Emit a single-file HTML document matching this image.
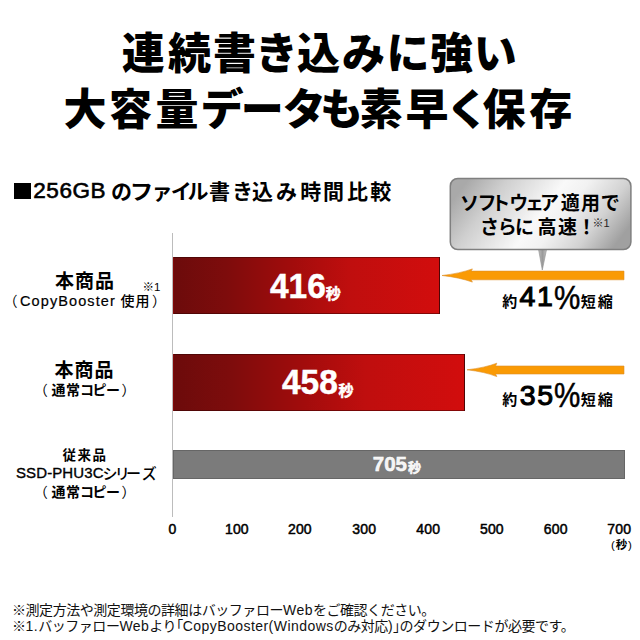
<!DOCTYPE html>
<html lang="ja">
<head>
<meta charset="utf-8">
<style>
html,body{margin:0;padding:0;background:#fff;}
.ov{position:absolute;left:0;top:0;}
.bub{position:absolute;left:0;width:640px;height:20px;font-size:19px;font-weight:700;line-height:1;color:#000;}
.bub span{position:absolute;top:0;}
body{width:640px;height:640px;position:relative;overflow:hidden;
  font-family:"Liberation Sans","Noto Sans CJK JP",sans-serif;color:#000;}
.a{position:absolute;white-space:nowrap;line-height:1;}
.jp{font-family:"Liberation Sans","Noto Sans CJK JP",sans-serif;}
.ttl{position:absolute;left:0;width:640px;height:46px;font-size:43px;font-weight:900;line-height:1;}
.ttl span{position:absolute;top:0;}
.sq{position:absolute;left:13.5px;top:182.5px;width:17px;height:16.5px;background:#000;}
.subj{position:absolute;left:0;top:180.5px;width:640px;height:22px;font-size:21px;font-weight:700;line-height:1;}
.subj span{position:absolute;top:0;}
.axis{position:absolute;left:172px;top:233px;width:1px;height:284px;background:#bcbcbc;}
.bar{position:absolute;box-sizing:border-box;}
.b1{left:172.6px;top:257.4px;width:267.2px;height:56.2px;background:linear-gradient(90deg,#6c0b0b 0%,#7e0c0c 20%,#a20c0c 45%,#bf0e0e 66%,#d20d0d 100%);border:1px solid rgba(40,0,0,0.45);}
.b2{left:172.6px;top:353.8px;width:292.4px;height:56.8px;background:linear-gradient(90deg,#6c0b0b 0%,#7e0c0c 20%,#a20c0c 45%,#bf0e0e 66%,#d20d0d 100%);border:1px solid rgba(40,0,0,0.45);}
.b3{left:172.6px;top:450.4px;width:452.2px;height:28.2px;background:#7b7b7b;border:1px solid #666;}
.val{color:#fff;font-weight:700;-webkit-text-stroke:0.5px #fff;}
.vn{transform:scaleX(0.955);transform-origin:0 0;}
.tick{font-size:14px;font-weight:400;-webkit-text-stroke:0.5px #000;letter-spacing:0.2px;}
.lab{font-weight:700;text-align:center;}
.lb{font-size:14px;font-weight:700;}
.lbrow{position:absolute;left:0;width:200px;height:16px;font-size:14px;font-weight:700;line-height:1;}
.lbrow span{position:absolute;top:0;}
.kp{font-feature-settings:"palt";letter-spacing:1px;}
.pj{font-size:15px;font-weight:700;}
.pn{font-size:28.5px;font-weight:400;-webkit-text-stroke:1.1px #000;letter-spacing:1.5px;}
.pc{font-size:34px;font-weight:400;-webkit-text-stroke:0.5px #000;transform:scaleX(0.87);transform-origin:0 0;}
.lt{letter-spacing:0.45px;}
.h{font-feature-settings:"halt";}
.foot{font-size:14px;font-weight:400;color:#111;letter-spacing:-0.45px;}
</style>
</head>
<body>
<div class="ttl" style="top:33px"><span style="left:121.8px">連</span><span style="left:168.0px">続</span><span style="left:213.0px">書</span><span style="left:255.0px">き</span><span style="left:297.0px">込</span><span style="left:342.0px">み</span><span style="left:386.5px">に</span><span style="left:430.0px">強</span><span style="left:473.7px">い</span></div>
<div class="ttl" style="top:89px"><span style="left:63.5px">大</span><span style="left:109.0px">容</span><span style="left:155.5px">量</span><span style="left:200.4px">デ</span><span style="left:240.7px">ー</span><span style="left:282.7px">タ</span><span style="left:320.0px">も</span><span style="left:359.6px">素</span><span style="left:405.5px">早</span><span style="left:446.0px">く</span><span style="left:482.5px">保</span><span style="left:529.3px">存</span></div>
<div class="sq"></div><div class="a" style="left:33.3px;top:179.8px;font-size:22.5px;font-weight:400;-webkit-text-stroke:0.6px #000;letter-spacing:0.55px;">256GB</div>
<div class="subj"><span style="left:110.9px">の</span><span style="left:130.3px;transform:scaleX(1.12);transform-origin:3px 0;display:inline-block">フ</span><span style="left:151.4px">ァ</span><span style="left:170.7px">イ</span><span style="left:187.5px">ル</span><span style="left:209.0px">書</span><span style="left:232.0px">き</span><span style="left:252.0px">込</span><span style="left:275.9px">み</span><span style="left:300.2px">時</span><span style="left:323.0px">間</span><span style="left:347.0px">比</span><span style="left:370.2px">較</span></div>

<svg class="ov" width="640" height="640" viewBox="0 0 640 640">
<defs>
<linearGradient id="bg" x1="0" y1="0.35" x2="1" y2="0.65">
<stop offset="0" stop-color="#a9a9a9"/>
<stop offset="0.2" stop-color="#cfcfcf"/>
<stop offset="0.5" stop-color="#f9f9f9"/>
<stop offset="0.62" stop-color="#f2f2f2"/>
<stop offset="0.82" stop-color="#d2d2d2"/>
<stop offset="1" stop-color="#a0a0a0"/>
</linearGradient>
<linearGradient id="tg" x1="0" y1="0" x2="1" y2="0">
<stop offset="0" stop-color="#bdbdbd"/>
<stop offset="0.5" stop-color="#9a9a9a"/>
<stop offset="1" stop-color="#c4c4c4"/>
</linearGradient>
</defs>
<path d="M538.5,249.2 L542.3,270 L546.6,249.2 Z" fill="url(#tg)" stroke="#8e8e8e" stroke-width="0.6"/>
<rect x="450.3" y="178.4" width="180.6" height="71.2" rx="7.5" ry="7.5" fill="url(#bg)" stroke="#7f7f7f" stroke-width="1.5"/>
<path d="M442,275.5 Q460,273.4 472.4,268.9 L471.2,271.1 L624,271.1 L624,279.8 L471.2,279.8 L472.4,282.1 Q460,277.6 442,275.5 Z" fill="#fa9a04" stroke="#dc8f2a" stroke-width="0.6"/>
<path d="M467,369.8 Q485,367.7 496.8,363.2 L495.6,366 L624,366 L624,374 L495.6,374 L496.8,376.6 Q485,371.9 467,369.8 Z" fill="#fa9a04" stroke="#dc8f2a" stroke-width="0.6"/>
</svg>
<div class="bub" style="top:193.5px"><span style="left:460.0px">ソ</span><span style="left:477.6px">フ</span><span style="left:491.2px">ト</span><span style="left:509.3px">ウ</span><span style="left:525.0px">ェ</span><span style="left:540.0px">ア</span><span style="left:560.7px">適</span><span style="left:581.1px">用</span><span style="left:600.8px">で</span></div>
<div class="bub" style="top:218px"><span style="left:480.1px">さ</span><span style="left:497.7px">ら</span><span style="left:514.9px">に</span><span style="left:537.5px">高</span><span style="left:557.9px">速</span><span style="left:577.0px">！</span></div>
<div class="a" style="left:592.5px;top:218px;font-size:11px;color:#222;">※1</div>
<div class="a pj" style="left:502.2px;top:294.4px;">約</div>
<div class="a pn" style="left:519.6px;top:281.7px;">41</div>
<div class="a pc" style="left:553.9px;top:279.5px;">%</div>
<div class="a pj" style="left:580.8px;top:293.9px;letter-spacing:2px;">短縮</div>
<div class="a pj" style="left:502.2px;top:392.2px;">約</div>
<div class="a pn" style="left:519.8px;top:380.5px;">35</div>
<div class="a pc" style="left:554.1px;top:376.7px;transform:scaleX(0.87) scaleY(1.04);">%</div>
<div class="a pj" style="left:580.8px;top:392.4px;letter-spacing:2px;">短縮</div>
<div class="axis"></div>
<div class="bar b1"></div>
<div class="bar b2"></div>
<div class="bar b3"></div>

<div class="a val vn" style="left:269.5px;top:268.3px;font-size:35px;">416</div>
<div class="a val" style="left:325.8px;top:286px;font-size:15px;">秒</div>
<div class="a val vn" style="left:282px;top:363.8px;font-size:35px;">458</div>
<div class="a val" style="left:338.6px;top:382.6px;font-size:15px;">秒</div>
<div class="a val" style="left:372.8px;top:454px;font-size:20.5px;color:#f4f4f4;">705</div>
<div class="a val" style="left:408px;top:460.5px;font-size:13px;color:#f4f4f4;">秒</div>
<div class="a tick" style="left:168.4px;top:522.2px;">0</div>
<div class="a tick" style="left:224.9px;top:522.2px;">100</div>
<div class="a tick" style="left:287.9px;top:522.2px;">200</div>
<div class="a tick" style="left:352.3px;top:522.2px;">300</div>
<div class="a tick" style="left:416.2px;top:522.2px;">400</div>
<div class="a tick" style="left:479.9px;top:522.2px;">500</div>
<div class="a tick" style="left:543.7px;top:522.2px;">600</div>
<div class="a tick" style="left:607.3px;top:522.2px;">700</div>
<div class="a" style="left:611px;top:540px;font-size:11.5px;font-weight:700;letter-spacing:0.8px;"><span style="font-weight:400">(</span>秒<span style="font-weight:400">)</span></div>
<div class="a lab" style="left:55px;top:272px;font-size:19px;letter-spacing:1px;">本商品</div>
<div class="a" style="left:142.5px;top:282px;font-size:11.5px;">※1</div>
<div class="a lb" style="left:3.5px;top:294px;font-weight:400;">（</div>
<div class="a lb" style="left:20px;top:293.5px;font-size:14.5px;font-weight:400;-webkit-text-stroke:0.2px #000;letter-spacing:1.1px;">CopyBooster</div>
<div class="a lb" style="left:120.5px;top:294px;letter-spacing:1px;font-weight:500;">使用</div>
<div class="a lb" style="left:152px;top:294px;font-weight:400;">）</div>
<div class="a lab" style="left:54.5px;top:361px;font-size:19px;letter-spacing:1px;">本商品</div>
<div class="lbrow" style="top:383px"><span style="left:33.8px;font-weight:400">（</span><span style="left:51.4px">通</span><span style="left:66.0px">常</span><span style="left:79.9px">コ</span><span style="left:92.4px">ピ</span><span style="left:105.9px">ー</span><span style="left:121.5px;font-weight:400">）</span></div>
<div class="a lab" style="left:62.5px;top:448.8px;font-size:13.5px;letter-spacing:1.5px;">従来品</div>
<div class="a" style="left:16px;top:465.3px;font-size:15px;font-weight:400;-webkit-text-stroke:0.35px #000;letter-spacing:0.1px;">SSD-PHU3C</div>
<div class="lbrow" style="top:465.5px;font-size:15px;font-weight:500;"><span style="left:102.6px">シ</span><span style="left:114.8px">リ</span><span style="left:126.0px">ー</span><span style="left:141.7px">ズ</span></div>
<div class="lbrow" style="top:485px"><span style="left:33.8px;font-weight:400">（</span><span style="left:51.4px">通</span><span style="left:66.0px">常</span><span style="left:79.9px">コ</span><span style="left:92.4px">ピ</span><span style="left:105.9px">ー</span><span style="left:121.5px;font-weight:400">）</span></div>
<div class="a foot" style="left:12px;top:602.5px;">※測定方法や測定環境の詳細はバッファロー<span class="lt">Web</span>をご確認ください。</div>
<div class="a foot" style="left:12px;top:618.7px;">※<span class="lt">1.</span>バッファロー<span class="lt">Web</span>より<span class="h">「</span><span class="lt">CopyBooster(Windows</span>のみ対応<span class="lt">)</span><span class="h">」</span>のダウンロードが必要です。</div>
</body>
</html>
